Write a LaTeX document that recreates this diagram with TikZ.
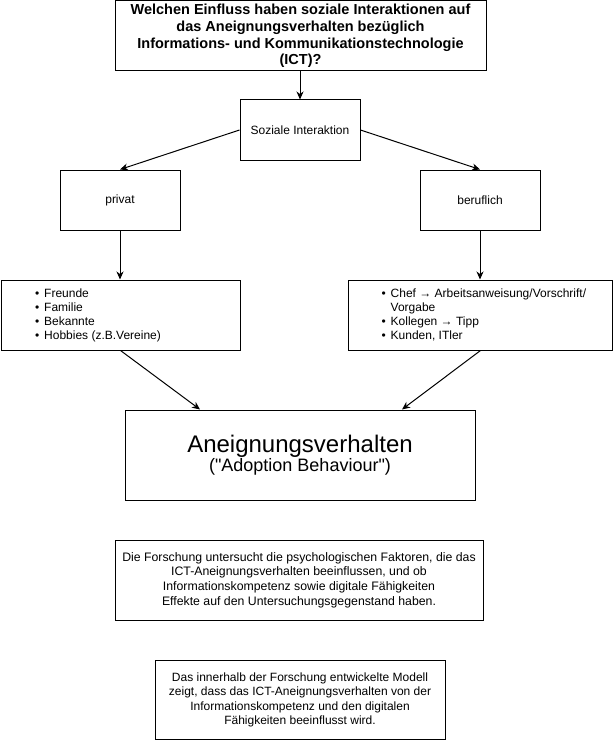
\documentclass[tikz,border=0pt]{standalone}
\usepackage{fontspec}
\setmainfont{Liberation Sans}[Ligatures=TeXOff]
\usetikzlibrary{arrows.meta}
\newcommand{\punkt}{\makebox[9pt][l]{•}}
\begin{document}
\begin{tikzpicture}[x=1pt,y=-1pt,
    kasten/.style={draw,line width=1pt,inner sep=0pt,align=center,
        font=\fontsize{12}{14.4}\selectfont},
    liste/.style={inner sep=0pt,align=left,anchor=west,
        font=\fontsize{12}{14}\selectfont},
    pfeil/.style={line width=1pt,-{Stealth[length=8pt,width=7pt,inset=2.5pt]}}]
    \useasboundingbox (0,0) rectangle (614,741);

    \node[kasten,minimum width=371,minimum height=70,
        font=\bfseries\fontsize{14.5}{16.8}\selectfont] (frage) at (300.5,36)
        {Welchen Einfluss haben soziale Interaktionen auf\\das Aneignungsverhalten bezüglich\\Informations- und Kommunikationstechnologie\\(ICT)?};
    \node[kasten,minimum width=120,minimum height=60] (sozial) at (300,130) {Soziale Interaktion};
    \node[kasten,minimum width=120,minimum height=60] (privat) at (120,200) {privat};
    \node[kasten,minimum width=120,minimum height=60] (beruf) at (480,200) {beruflich};

    \node[kasten,minimum width=239,minimum height=70] (privatliste) at (120.5,315) {};
    \node[kasten,minimum width=264,minimum height=70] (berufliste) at (480.5,315) {};
    \node[liste] (privatpunkte) at ([xshift=34.5]privatliste.west)
        {\punkt Freunde\\\punkt Familie\\\punkt Bekannte\\\punkt Hobbies (z.B.Vereine)};
    \node[liste] (berufpunkte) at ([xshift=33.5]berufliste.west)
        {\punkt Chef → Arbeitsanweisung/Vorschrift/\\\hspace*{9pt}Vorgabe\\\punkt Kollegen → Tipp\\\punkt Kunden, ITler};

    \node[kasten,minimum width=350,minimum height=90] (aneignung) at (300,455)
        {{\fontsize{24}{26}\selectfont Aneignungsverhalten}\\{\fontsize{18}{25}\selectfont ("Adoption Behaviour")}};
    \node[kasten,minimum width=368,minimum height=80,
        font=\fontsize{12.3}{14.6}\selectfont] (forschung) at (299,580)
        {Die Forschung untersucht die psychologischen Faktoren, die das\\ICT-Aneignungsverhalten beeinflussen, und ob\\Informationskompetenz sowie digitale Fähigkeiten\\Effekte auf den Untersuchungsgegenstand haben.};
    \node[kasten,minimum width=290,minimum height=79] (modell) at (300,700)
        {Das innerhalb der Forschung entwickelte Modell\\zeigt, dass das ICT-Aneignungsverhalten von der\\Informationskompetenz und den digitalen\\Fähigkeiten beeinflusst wird.};

    \draw[pfeil] (sozial.north |- frage.south) -- (sozial.north);
    \draw[pfeil] (sozial.west) -- (privat.north);
    \draw[pfeil] (sozial.east) -- (beruf.north);
    \draw[pfeil] (privat.south) -- (privat.south |- privatliste.north);
    \draw[pfeil] (beruf.south) -- (beruf.south |- berufliste.north);
    \draw[pfeil] (privatliste.south) -- ([xshift=-100]aneignung.north);
    \draw[pfeil] (berufliste.south) -- ([xshift=102]aneignung.north);
\end{tikzpicture}
\end{document}
